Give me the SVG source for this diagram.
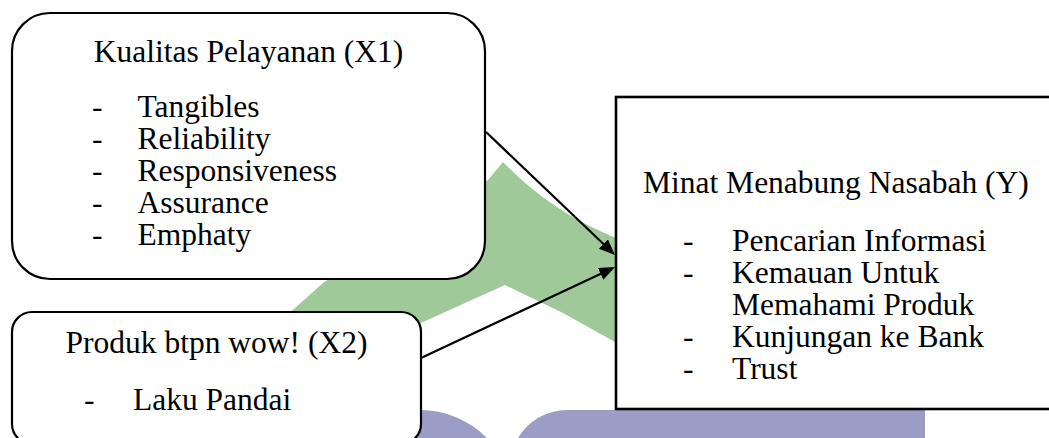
<svg xmlns="http://www.w3.org/2000/svg" width="1049" height="438" viewBox="0 0 1049 438">
<defs>
<style>
text{font-family:'Liberation Serif','Times New Roman','DejaVu Serif',serif;font-size:31.5px;fill:#000}
.box{fill:#fff;stroke:#000;stroke-width:2.2}
.conn{stroke:#000;stroke-width:2.2;fill:none}
</style>
<marker id="ah" markerUnits="userSpaceOnUse" markerWidth="18" markerHeight="14" refX="8" refY="6.5" orient="auto">
<path d="M0,0 L16,6.5 L0,13 z" fill="#000"/>
</marker>
</defs>
<rect width="1049" height="438" fill="#fff"/>
<g id="watermark">
<path d="M503 162 C540 200 580 226 640 247 L640 356 L615 342 L563 313 L505 285 L423 322 L330 362 L280 400 L270 330 L295 308 L323 283 L488 180 Z" fill="#9fc998"/>
<circle cx="420" cy="504" r="94" fill="#9c9dc6"/>
<path d="M518 438 A57 57 0 0 1 567 410 L925 410 L925 438 Z" fill="#9c9dc6"/>
</g>
<g id="node-x1" font-family="Liberation Serif, serif">
<rect class="box" x="12" y="13" width="473" height="266" rx="38" ry="38"/>
<text x="248.5" y="61.5" text-anchor="middle">Kualitas Pelayanan (X1)</text>
<text x="92" y="117">-</text><text x="137.5" y="117">Tangibles</text>
<text x="92" y="149">-</text><text x="137.5" y="149">Reliability</text>
<text x="92" y="181">-</text><text x="137.5" y="181">Responsiveness</text>
<text x="92" y="213">-</text><text x="137.5" y="213">Assurance</text>
<text x="92" y="245">-</text><text x="137.5" y="245">Emphaty</text>
</g>
<g id="node-x2">
<rect class="box" x="12" y="312" width="409" height="132" rx="20" ry="20"/>
<text x="216.5" y="353" text-anchor="middle">Produk btpn wow! (X2)</text>
<text x="84" y="410">-</text><text x="133" y="410">Laku Pandai</text>
</g>
<g id="node-y">
<rect class="box" x="616" y="97" width="445" height="312" style="stroke-width:2.6"/>
<text x="643" y="193">Minat Menabung Nasabah (Y)</text>
<text x="683" y="251">-</text><text x="732" y="251">Pencarian Informasi</text>
<text x="683" y="283">-</text><text x="732" y="283">Kemauan Untuk</text>
<text x="732" y="315">Memahami Produk</text>
<text x="683" y="347">-</text><text x="732" y="347">Kunjungan ke Bank</text>
<text x="683" y="379">-</text><text x="732" y="379">Trust</text>
</g>
<g id="connectors">
<line class="conn" x1="486" y1="132" x2="609.2" y2="249.5" marker-end="url(#ah)"/>
<line class="conn" x1="421" y1="358" x2="607.8" y2="270.4" marker-end="url(#ah)"/>
</g>
</svg>
